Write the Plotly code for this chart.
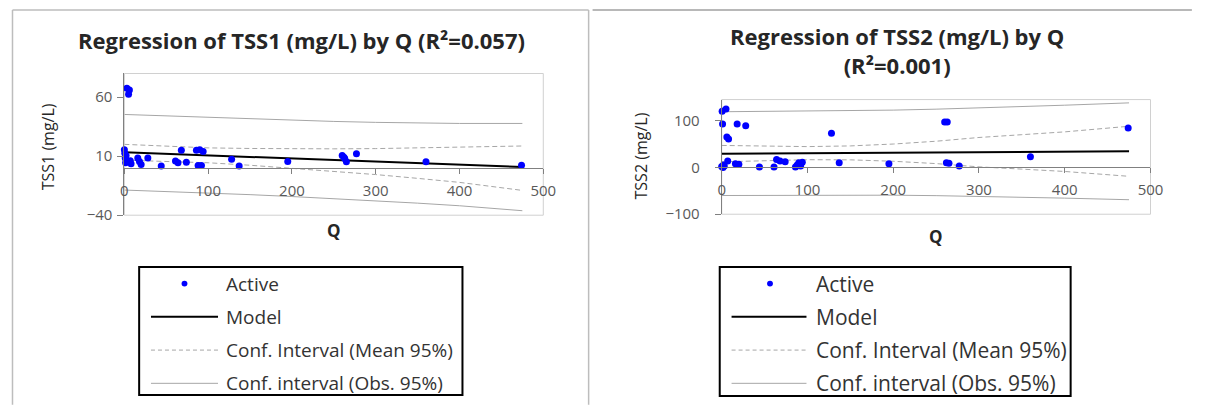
import plotly.graph_objects as go

# The page is 1205x414 and the html body keeps its default 8px margin on every
# side, so the figure is 16px smaller and page-pixel positions are shifted by 8.
PAGE_W, PAGE_H, OFF = 1205, 414, 8
W, H = PAGE_W - 2 * OFF, PAGE_H - 2 * OFF

# ---------------- data ----------------
q = [0, 0.5, 1, 1.5, 2, 3, 5, 6, 7, 8, 16, 18, 20, 28, 44, 61, 64, 68, 74,
     86, 88, 90, 92, 94, 128, 137, 195, 260, 262, 263, 265, 277, 360, 474]
tss1 = [15.5, 12.5, 8.5, 4.5, 10.5, 67.5, 62.5, 66, 6, 3.5, 8.5, 5.5, 3, 8.5,
        1.7, 5.8, 4.4, 15, 4.8, 15, 2, 15.5, 2, 14, 7.3, 1.7, 5.5, 10.6, 9, 8,
        5.3, 12, 5.3, 2.3]
tss2 = [2, 120, 93, 0, 5, 3, 125, 65, 14, 61, 8, 93, 7, 89, 1, 1, 17, 14, 12,
        1, 5, 10, 3, 11, 73, 10, 8, 97, 10, 97, 9, 3, 23, 84]

q_fit = [0, 50, 100, 150, 200, 250, 300, 350, 400, 475]
model1 = [13.3, 12.0, 10.7, 9.4, 8.0, 6.7, 5.4, 4.1, 2.8, 0.8]
mean_up1 = [20.0, 18.2, 17.0, 16.5, 16.2, 16.2, 16.4, 17.0, 17.8, 18.6]
mean_lo1 = [6.6, 5.8, 4.4, 2.3, -0.2, -2.8, -5.6, -8.8, -12.2, -19.0]
obs_up1 = [45.3, 44.0, 42.7, 41.5, 40.4, 39.4, 38.6, 38.0, 37.7, 37.7]
obs_lo1 = [-18.7, -19.8, -21.1, -22.6, -24.2, -25.9, -27.7, -29.8, -32.0, -36.2]

model2 = [29.5, 30.0, 30.5, 31.1, 31.6, 32.1, 32.6, 33.2, 33.7, 34.5]
mean_up2 = [47, 45, 44.5, 46, 50, 56, 64, 70, 76, 88]
mean_lo2 = [12, 15, 16.5, 16.2, 13.2, 8.2, 1.2, -3.6, -8.6, -19]
obs_up2 = [119, 119.5, 120, 121, 122.5, 124.5, 127, 130, 133, 138]
obs_lo2 = [-60, -59.5, -59, -58.8, -59.3, -60.3, -61.8, -63.6, -65.6, -69]

x_ticks = [0, 100, 200, 300, 400, 500]
y1_ticks = [-40, 10, 60]
y2_ticks = [-100, 0, 100]
y1_range = [-40, 80]
y2_range = [-100, 145]

title1 = "Regression of TSS1 (mg/L) by Q (R²=0.057)"
title2 = "Regression of TSS2 (mg/L) by Q<br>(R²=0.001)"
y_titles = ["TSS1 (mg/L)", "TSS2 (mg/L)"]
legend_names = ["Active", "Model", "Conf. Interval (Mean 95%)", "Conf. interval (Obs. 95%)"]

# ---------------- helpers ----------------
def fx(px):
    return (px - OFF) / W

def fy(py):
    return 1 - (py - OFF) / H

FONT = "'Open Sans', Lato, Arial, sans-serif"
GRAY = "#a6a6a6"
AXIS = "#808080"
DARK = "#262626"

fig = go.Figure()

panels = [
    dict(xa="x", ya="y", y=tss1, m=model1, mu=mean_up1, ml=mean_lo1, ou=obs_up1, ol=obs_lo1),
    dict(xa="x2", ya="y2", y=tss2, m=model2, mu=mean_up2, ml=mean_lo2, ou=obs_up2, ol=obs_lo2),
]

for p in panels:
    for vals in (p["ou"], p["ol"]):
        fig.add_trace(go.Scatter(x=q_fit, y=vals, mode="lines", xaxis=p["xa"], yaxis=p["ya"],
                                 line=dict(color=GRAY, width=1), showlegend=False, hoverinfo="skip"))
    for vals in (p["mu"], p["ml"]):
        fig.add_trace(go.Scatter(x=q_fit, y=vals, mode="lines", xaxis=p["xa"], yaxis=p["ya"],
                                 line=dict(color=GRAY, width=1, dash="5px,3px"), showlegend=False,
                                 hoverinfo="skip"))
    fig.add_trace(go.Scatter(x=q_fit, y=p["m"], mode="lines", xaxis=p["xa"], yaxis=p["ya"],
                             line=dict(color="#000000", width=2), showlegend=False, name="Model"))
    fig.add_trace(go.Scatter(x=q, y=p["y"], mode="markers", xaxis=p["xa"], yaxis=p["ya"],
                             marker=dict(color="#0000ff", size=7), cliponaxis=False,
                             showlegend=False, name="Active"))

# axis geometry (page pixels)
dom_x1 = [fx(122), fx(547)]
dom_y1 = [fy(220), fy(75)]
dom_x2 = [fx(728), fx(1163)]
dom_y2 = [fy(219), fy(101.7)]


def zero_pos(dom, rng):
    return dom[0] + (0 - rng[0]) / (rng[1] - rng[0]) * (dom[1] - dom[0])


xcommon = dict(range=[0, 500], tickvals=x_ticks, ticks="outside", ticklen=5, tickcolor=AXIS,
               showline=True, linecolor=AXIS, linewidth=1, showgrid=False, zeroline=False,
               tickfont=dict(family=FONT, size=15, color="#595959"), anchor="free",
               ticklabelstandoff=4)
ycommon = dict(ticks="outside", ticklen=6, tickcolor=AXIS, showline=True, linecolor=AXIS,
               linewidth=1, showgrid=False, zeroline=False,
               tickfont=dict(family=FONT, size=15, color="#595959"))

fig.update_layout(
    width=W, height=H, autosize=False,
    margin=dict(l=0, r=0, t=0, b=0),
    paper_bgcolor="white", plot_bgcolor="white",
    font=dict(family=FONT, color=DARK),
    xaxis=dict(domain=dom_x1, position=zero_pos(dom_y1, y1_range), **xcommon),
    yaxis=dict(domain=dom_y1, range=y1_range, tickvals=y1_ticks, anchor="x",
               ticklabelstandoff=2, **ycommon),
    xaxis2=dict(domain=dom_x2, position=zero_pos(dom_y2, y2_range), **xcommon),
    yaxis2=dict(domain=dom_y2, range=y2_range, tickvals=y2_ticks, anchor="x2",
                ticklabelstandoff=12, **ycommon),
)

shapes = []
annotations = []


def pline(xa, ya, xb, yb, color, width, dash=None):
    ln = dict(color=color, width=width)
    if dash:
        ln["dash"] = dash
    shapes.append(dict(type="line", xref="paper", yref="paper", x0=fx(xa), x1=fx(xb),
                       y0=fy(ya), y1=fy(yb), line=ln))


# panel frames (left panel: left, top, right edges; right panel: top edge)
pline(8.5, 10, 8.5, 414, "#bdbdbd", 1.5)
pline(8.5, 10, 593, 10, "#bdbdbd", 1.5)
pline(593, 10, 593, 414, "#bdbdbd", 1.5)
pline(597, 10, 1205, 10, "#a0a0a0", 1.5)

# plot-area borders
for xr, yr in (("x domain", "y domain"), ("x2 domain", "y2 domain")):
    shapes.append(dict(type="rect", xref=xr, yref=yr, x0=0, x1=1, y0=0, y1=1,
                       line=dict(color="#d0d0d0", width=1), layer="below"))


def ann(text, x, y, size, bold=False, angle=0, xanchor="center", color=DARK, xref="paper"):
    annotations.append(dict(text=("<b>%s</b>" % text) if bold else text, x=x, y=y,
                            xref=xref, yref="paper", xanchor=xanchor, yanchor="middle",
                            textangle=angle, showarrow=False,
                            font=dict(family=FONT, size=size, color=color)))


# titles
ann(title1, fx(302), fy(41), 22, bold=True)
ann(title2, fx(906), fy(51), 22, bold=True)

# axis titles
ann("Q", 0.5, fy(236), 17, bold=True, xref="x domain")
ann("Q", 0.5, fy(242), 17, bold=True, xref="x2 domain")
ann(y_titles[0], fx(44), fy(150), 16, angle=-90)
ann(y_titles[1], fx(646), fy(159), 16, angle=-90)

# custom legends
legends = [
    dict(box=(137, 465, 273, 404), rows=(290, 324, 358, 392), line=(149, 217), dot=183,
         text_x=223, size=19),
    dict(box=(726, 1082, 273, 405), rows=(290, 324, 358, 392), line=(738, 814), dot=777,
         text_x=822, size=21),
]
for lg in legends:
    x0, x1, y0, y1 = lg["box"]
    shapes.append(dict(type="rect", xref="paper", yref="paper", x0=fx(x0), x1=fx(x1), y0=fy(y1),
                       y1=fy(y0), line=dict(color="#000000", width=2)))
    r = lg["rows"]
    shapes.append(dict(type="circle", xref="paper", yref="paper", x0=fx(lg["dot"] - 3),
                       x1=fx(lg["dot"] + 3), y0=fy(r[0] + 3), y1=fy(r[0] - 3),
                       fillcolor="#0000ff", line=dict(color="#0000ff", width=0)))
    la, lb = lg["line"]
    pline(la, r[1], lb, r[1], "#000000", 2)
    pline(la, r[2], lb, r[2], GRAY, 1, "4px,3px")
    pline(la, r[3], lb, r[3], GRAY, 1)
    for name, ry in zip(legend_names, r):
        ann(name, fx(lg["text_x"]), fy(ry), lg["size"], xanchor="left", color="#333333")

fig.update_layout(shapes=shapes, annotations=annotations)

fig.write_html("out.html")
